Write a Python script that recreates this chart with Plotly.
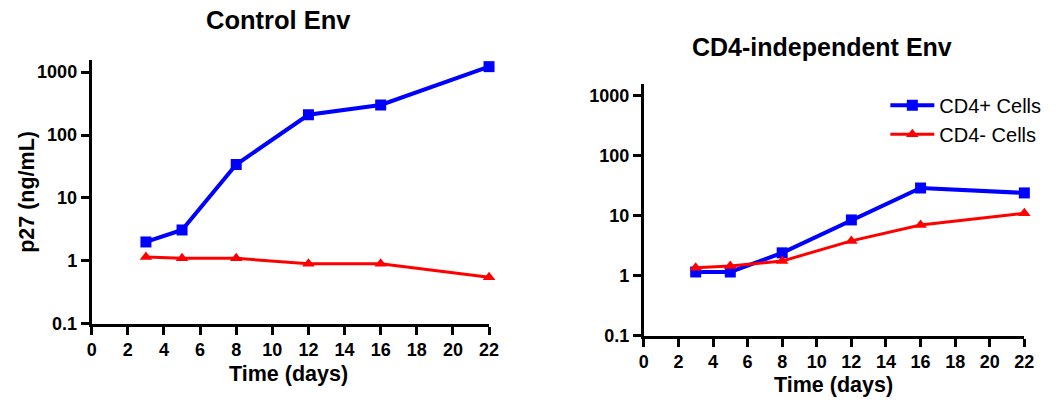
import plotly.graph_objects as go

# Sampling days
days = [3, 5, 8, 12, 16, 22]

# p27 (ng/mL), Control Env
control_cd4_pos = [2.0, 3.1, 34, 210, 300, 1220]
control_cd4_neg = [1.15, 1.1, 1.1, 0.9, 0.9, 0.55]

# p27 (ng/mL), CD4-independent Env
indep_cd4_pos = [1.15, 1.15, 2.4, 8.5, 29, 24]
indep_cd4_neg = [1.35, 1.45, 1.75, 3.8, 7.0, 11]

series_names = ["CD4+ Cells", "CD4- Cells"]
y_tickvals = [0.1, 1, 10, 100, 1000]
y_ticktext = ["0.1", "1", "10", "100", "1000"]
x_tickvals = list(range(0, 23, 2))

BLUE = "#0000ff"
RED = "#ff0000"
FONT = "Liberation Sans, Arial, sans-serif"
W, H = 1058, 407

fig = go.Figure()

def add_pair(pos, neg, xa, ya, show):
    fig.add_trace(go.Scatter(
        x=days, y=pos, name=series_names[0], mode="lines+markers",
        line=dict(color=BLUE, width=4),
        marker=dict(symbol="square", size=11, color=BLUE),
        xaxis=xa, yaxis=ya, showlegend=show, cliponaxis=False))
    fig.add_trace(go.Scatter(
        x=days, y=neg, name=series_names[1], mode="lines+markers",
        line=dict(color=RED, width=3),
        marker=dict(symbol="triangle-up", size=11, color=RED),
        xaxis=xa, yaxis=ya, showlegend=show, cliponaxis=False))

add_pair(control_cd4_pos, control_cd4_neg, "x", "y", False)
add_pair(indep_cd4_pos, indep_cd4_neg, "x2", "y2", True)

def px_x(v):
    return v / W

def px_y(v):
    return 1 - v / H

tickfont = dict(family=FONT, size=18, color="black", weight="bold")

xaxis_common = dict(
    range=[0, 22], tickvals=x_tickvals, showline=True, linecolor="black",
    linewidth=3, ticks="outside", ticklen=8, tickwidth=3, tickcolor="black",
    showgrid=False, zeroline=False, tickfont=tickfont, fixedrange=True)
yaxis_common = dict(
    type="log", range=[-1, 3.2], tickvals=y_tickvals, ticktext=y_ticktext,
    showline=True, linecolor="black", linewidth=3, ticks="outside",
    ticklen=8, tickwidth=3, tickcolor="black", showgrid=False,
    zeroline=False, tickfont=tickfont, fixedrange=True)

fig.update_layout(
    width=W, height=H,
    margin=dict(l=0, r=0, t=0, b=0),
    paper_bgcolor="white", plot_bgcolor="white",
    font=dict(family=FONT, color="black"),
    xaxis=dict(domain=[px_x(88), px_x(491)], anchor="y", **xaxis_common),
    yaxis=dict(domain=[px_y(332), px_y(61)], anchor="x", **yaxis_common),
    xaxis2=dict(domain=[px_x(648), px_x(1034)], anchor="y2", **xaxis_common),
    yaxis2=dict(domain=[px_y(344), px_y(86)], anchor="x2", **yaxis_common),
    legend=dict(x=px_x(893), y=px_y(88), xanchor="left", yanchor="top",
                font=dict(family=FONT, size=20, color="black"),
                itemwidth=44, bgcolor="rgba(0,0,0,0)"),
    showlegend=True,
)

bold = dict(family=FONT, color="black", weight="bold")
annotations = [
    dict(text="Control Env", x=px_x(277), y=px_y(21), font=dict(size=25.5, **bold)),
    dict(text="CD4-independent Env", x=px_x(829), y=px_y(48), font=dict(size=25, **bold)),
    dict(text="Time (days)", x=px_x(288), y=px_y(383), font=dict(size=21.5, **bold)),
    dict(text="Time (days)", x=px_x(840), y=px_y(395), font=dict(size=21.5, **bold)),
    dict(text="p27 (ng/mL)", x=px_x(22), y=px_y(197), textangle=-90,
         font=dict(size=21.5, **bold)),
]
for a in annotations:
    fig.add_annotation(xref="paper", yref="paper", showarrow=False,
                       xanchor="center", yanchor="middle", **a)

fig.write_html("out.html")
